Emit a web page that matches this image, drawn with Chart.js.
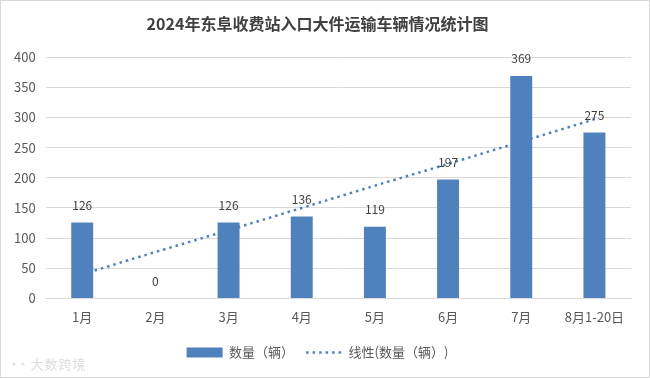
<!DOCTYPE html>
<html>
<head>
<meta charset="utf-8">
<script src="https://cdn.jsdelivr.net/npm/chart.js@4"></script>
<style>
  html, body { margin: 0; padding: 0; background: #fff; }
  #box { position: relative; width: 650px; height: 378px; box-sizing: border-box; border: 1px solid #d9d9d9; }
  #wm { position: absolute; left: 8px; bottom: 4px; font: 13px 'Noto Sans CJK SC', sans-serif; color: #dcdcdc; letter-spacing: 1px; }
</style>
</head>
<body>
<div id="box">
  <canvas id="chart" width="648" height="376"></canvas>
  <div id="wm">◔◔ 大数跨境</div>
</div>
<script>
const categories = ['1月', '2月', '3月', '4月', '5月', '6月', '7月', '8月1-20日'];
const counts = [126, 0, 126, 136, 119, 197, 369, 275];
// trend line values
const trend = [40, 77, 113, 150, 187, 223, 260, 297];
const yTicks = [0, 50, 100, 150, 200, 250, 300, 350, 400];

const barColor = '#4f81bd';
const textColor = '#595959';
const fontFamily = "'Noto Sans CJK SC', 'Noto Sans', sans-serif";

// value labels above the bars
const barLabels = {
    id: 'barLabels',
    afterDatasetsDraw(chart) {
        const ctx = chart.ctx;
        const meta = chart.getDatasetMeta(0);
        ctx.save();
        ctx.font = '12px ' + fontFamily;
        ctx.fillStyle = '#404040';
        ctx.textAlign = 'center';
        ctx.textBaseline = 'middle';
        meta.data.forEach((bar, i) => {
            ctx.fillText(String(counts[i]), bar.x, bar.y - 17);
        });
        ctx.restore();
    }
};

new Chart(document.getElementById('chart').getContext('2d'), {
    data: {
        labels: categories,
        datasets: [
            {
                type: 'bar',
                label: '数量（辆）',
                data: counts,
                backgroundColor: barColor,
                barPercentage: 0.6,
                categoryPercentage: 0.5,
                order: 2
            },
            {
                type: 'line',
                label: '线性(数量（辆）)',
                data: trend,
                borderColor: barColor,
                borderWidth: 2.5,
                borderDash: [2.5, 4],
                pointRadius: 0,
                fill: false,
                tension: 0,
                order: 1
            }
        ]
    },
    options: {
        responsive: false,
        animation: false,
        layout: { padding: { left: 3, right: 18, top: 4, bottom: 8 } },
        plugins: {
            title: {
                display: true,
                text: '2024年东阜收费站入口大件运输车辆情况统计图',
                color: '#404040',
                font: { family: fontFamily, size: 16, weight: 'bold' },
                padding: { top: 9, bottom: 24 }
            },
            legend: {
                position: 'bottom',
                labels: {
                    color: textColor,
                    font: { family: fontFamily, size: 13 },
                    usePointStyle: true,
                    pointStyleWidth: 36,
                    boxHeight: 10,
                    padding: 12,
                    generateLabels: () => [
                        { text: '数量（辆）', fillStyle: barColor, strokeStyle: barColor, lineWidth: 0, pointStyle: 'rect', datasetIndex: 0, fontColor: textColor },
                        { text: '线性(数量（辆）)', fillStyle: 'rgba(0,0,0,0)', strokeStyle: barColor, lineWidth: 2.5, lineDash: [2.5, 4], pointStyle: 'line', datasetIndex: 1, fontColor: textColor }
                    ]
                }
            },
            tooltip: { enabled: false }
        },
        scales: {
            x: {
                grid: { display: false },
                border: { color: '#d9d9d9' },
                ticks: { color: textColor, font: { family: fontFamily, size: 13 }, padding: 3 },
                afterFit: axis => { axis.height += 6; }
            },
            y: {
                min: 0,
                max: 400,
                afterBuildTicks: axis => { axis.ticks = yTicks.map(v => ({ value: v })); },
                grid: { color: '#d9d9d9', drawTicks: false },
                border: { display: false },
                ticks: { color: textColor, font: { family: fontFamily, size: 13 }, padding: 10 }
            }
        }
    },
    plugins: [barLabels]
});
</script>
</body>
</html>
